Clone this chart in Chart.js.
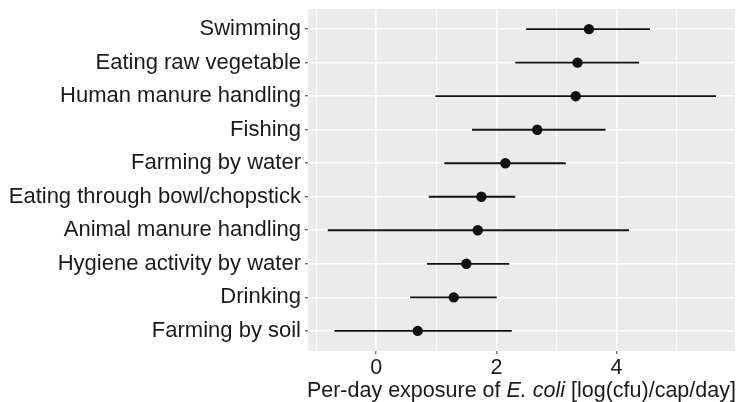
<!DOCTYPE html>
<html>
<head>
<meta charset="utf-8">
<script src="https://cdn.jsdelivr.net/npm/chart.js@4.4.1/dist/chart.umd.min.js"></script>
<style>
  html, body { margin: 0; padding: 0; background: #fff; }
  #wrap { width: 740px; height: 402px; position: relative; }
</style>
</head>
<body>
<div id="wrap"><canvas id="grafico"></canvas></div>
<script>
// atividades de baixo para cima (ordem do eixo y)
const atividades = [
  "Farming by soil", "Drinking", "Hygiene activity by water", "Animal manure handling",
  "Eating through bowl/chopstick", "Farming by water", "Fishing", "Human manure handling",
  "Eating raw vegetable", "Swimming",
];
const mediana = [0.69, 1.29, 1.50, 1.69, 1.75, 2.15, 2.68, 3.32, 3.35, 3.54];
const minimo  = [-0.69, 0.57, 0.85, -0.80, 0.88, 1.14, 1.60, 0.99, 2.32, 2.50];
const maximo  = [2.25, 2.00, 2.21, 4.20, 2.31, 3.15, 3.81, 5.65, 4.37, 4.55];
const ticksX   = [-1, 0, 1, 2, 3, 4, 5];
const rotulosX = ["", "0", "", "2", "", "4", ""];
const tituloPartes = [
  ["Per-day exposure of ", "normal"],
  ["E. coli", "italic"],
  [" [log(cfu)/cap/day]", "normal"],
];

const FONTE = "'Liberation Sans', Arial, Helvetica, sans-serif";
const COR_TEXTO = "#1a1a1a";

// fundo cinza do painel (estilo ggplot)
const fundoPainel = {
  id: "fundoPainel",
  beforeDraw(chart) {
    const { ctx, chartArea: a } = chart;
    ctx.save();
    ctx.fillStyle = "#EBEBEB";
    ctx.fillRect(a.left, a.top, a.right - a.left, a.bottom - a.top);
    ctx.restore();
  },
};

// título do eixo x com "E. coli" em itálico
const tituloX = {
  id: "tituloX",
  afterDraw(chart) {
    const { ctx, chartArea: a } = chart;
    const tam = 21.5;
    ctx.save();
    ctx.fillStyle = COR_TEXTO;
    ctx.textBaseline = "alphabetic";
    const larguras = tituloPartes.map(([txt, est]) => {
      ctx.font = `${est} ${tam}px ${FONTE}`;
      return ctx.measureText(txt).width;
    });
    const total = larguras.reduce((s, w) => s + w, 0);
    let x = (a.left + a.right) / 2 - total / 2;
    tituloPartes.forEach(([txt, est], i) => {
      ctx.font = `${est} ${tam}px ${FONTE}`;
      ctx.fillText(txt, x, 397);
      x += larguras[i];
    });
    ctx.restore();
  },
};

const ehMaior = (v) => v % 2 === 0;

new Chart(document.getElementById("grafico"), {
  type: "scatter",
  data: {
    datasets: [
      {
        type: "scatter",
        data: atividades.map((_, i) => ({ x: mediana[i], y: i + 1 })),
        pointRadius: 5.2,
        pointBackgroundColor: "#111",
        pointBorderWidth: 0,
        order: 0,
      },
      {
        type: "bar",
        indexAxis: "y",
        data: atividades.map((_, i) => ({ y: i + 1, x: [minimo[i], maximo[i]] })),
        backgroundColor: "#111",
        barThickness: 1.2,
        grouped: false,
        order: 1,
      },
    ],
  },
  options: {
    responsive: true, maintainAspectRatio: false, animation: false,
    layout: { padding: { top: 9, right: 2, left: 0, bottom: 0 } },
    plugins: { legend: { display: false }, tooltip: { enabled: false } },
    scales: {
      x: {
        type: "linear", min: -1.135, max: 5.967, offset: false,
        afterBuildTicks: (s) => { s.ticks = ticksX.map((v) => ({ value: v })); },
        afterFit: (s) => { s.height = 51; s.paddingLeft = 0; s.paddingRight = 0; },
        ticks: {
          callback: (v, i) => rotulosX[i],
          font: { family: FONTE, size: 21.5 }, color: COR_TEXTO,
          padding: 1, maxRotation: 0, autoSkip: false,
        },
        grid: {
          offset: false,
          color: "#fff",
          lineWidth: (c) => (c.tick && ehMaior(c.tick.value) ? 1.6 : 0.8),
          tickColor: (c) => (c.tick && ehMaior(c.tick.value) ? "#333" : "rgba(0,0,0,0)"),
          tickLength: 3, tickWidth: 1,
        },
        border: { display: false },
      },
      y: {
        type: "linear", min: 0.4, max: 10.6, offset: false,
        afterBuildTicks: (s) => { s.ticks = atividades.map((_, i) => ({ value: i + 1 })); },
        afterFit: (s) => { s.width = 308; s.paddingTop = 0; s.paddingBottom = 0; },
        ticks: {
          callback: (v) => atividades[Math.round(v) - 1],
          font: { family: FONTE, size: 22 }, color: COR_TEXTO,
          padding: 4, autoSkip: false,
        },
        grid: { offset: false, color: "#fff", lineWidth: 1.6, tickColor: "#333", tickLength: 3, tickWidth: 1 },
        border: { display: false },
      },
    },
  },
  plugins: [fundoPainel, tituloX],
});
</script>
</body>
</html>
